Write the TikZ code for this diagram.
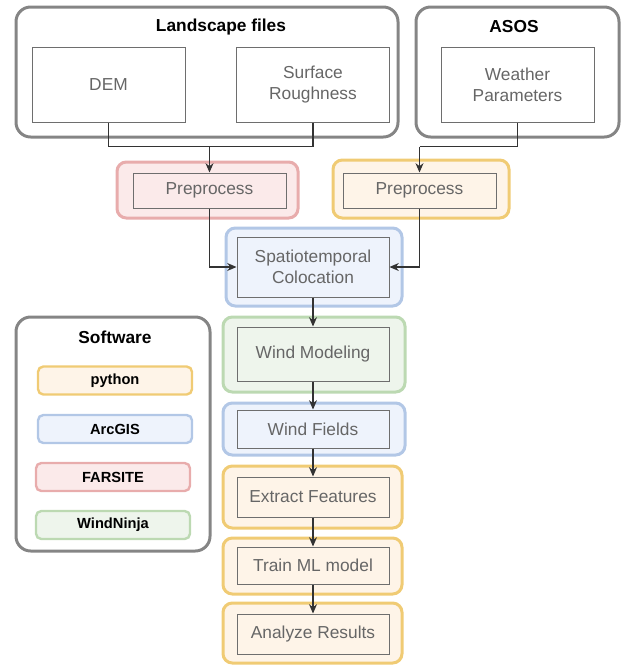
\documentclass[tikz,border=0pt]{standalone}
\usepackage{fontspec}
\setmainfont{Liberation Sans}
\usetikzlibrary{arrows.meta}

\definecolor{framegray}{HTML}{858585}
\definecolor{innergray}{HTML}{6E6E6E}
\definecolor{textgray}{HTML}{666666}
\definecolor{pyfill}{HTML}{FEF4E8}
\definecolor{pydraw}{HTML}{F0CB74}
\definecolor{gisfill}{HTML}{EEF3FC}
\definecolor{gisdraw}{HTML}{B2C7E6}
\definecolor{farfill}{HTML}{FBEAEA}
\definecolor{fardraw}{HTML}{E8ACAC}
\definecolor{ninjafill}{HTML}{EEF5EC}
\definecolor{ninjadraw}{HTML}{BCD9B2}

\tikzset{
  group/.style={draw=framegray,line width=2.25pt,rounded corners=11pt,inner sep=0pt},
  tool/.style={line width=2.25pt,rounded corners=7pt,inner sep=0pt},
  task/.style={draw=innergray,line width=0.75pt,inner sep=0pt,align=center,
    text=textgray,font=\fontsize{13}{15.75}\selectfont},
  key/.style={line width=1.8pt,rounded corners=4pt,inner sep=0pt,
    minimum width=115.5pt,minimum height=21pt,font=\fontsize{11}{13}\selectfont\bfseries},
  title/.style={font=\fontsize{13}{15}\selectfont\bfseries},
  arr/.style={draw=black!80,line width=0.8pt,-{Stealth[length=7pt,width=6pt]}},
  wire/.style={draw=black!80,line width=0.8pt}
}

\begin{document}
\begin{tikzpicture}[x=0.75pt,y=-0.75pt]
    \useasboundingbox (0,0) rectangle (624,665);
    % input groups
    \node[group,minimum width=286.5pt,minimum height=97.5pt] (land) at (207,72) {};
    \node[group,minimum width=152.25pt,minimum height=97.5pt] (asos) at (517.5,72) {};
    \node[title] (landtitle) at (221,27) {Landscape files};
    \node[title] (asostitle) at (514,27) {ASOS};
    \begin{scope}[every node/.style={task,minimum width=114.75pt,minimum height=56.25pt}]
      \node (dem) at (108.5,84.5) {DEM};
      \node (rough) at (313,84.5) {Surface\\Roughness};
      \node (weather) at (517.5,84.5) {Weather\\Parameters};
    \end{scope}

    % tool frames
    \node[tool,draw=fardraw,fill=farfill,minimum width=135.75pt,minimum height=42pt] (prepAout) at (207.5,190) {};
    \node[tool,draw=pydraw,fill=pyfill,minimum width=132pt,minimum height=43.5pt] (prepBout) at (421,189) {};
    \node[tool,draw=gisdraw,fill=gisfill,minimum width=132pt,minimum height=58.5pt] (spatioout) at (314,267) {};
    \node[tool,draw=ninjadraw,fill=ninjafill,minimum width=136.5pt,minimum height=56.25pt] (windout) at (314,354.5) {};
    \node[tool,draw=gisdraw,fill=gisfill,minimum width=136.5pt,minimum height=39pt] (fieldsout) at (314,429) {};
    \node[tool,draw=pydraw,fill=pyfill,minimum width=134.25pt,minimum height=46.5pt] (extractout) at (312.5,497) {};
    \node[tool,draw=pydraw,fill=pyfill,minimum width=134.25pt,minimum height=42pt] (trainout) at (312.5,566) {};
    \node[tool,draw=pydraw,fill=pyfill,minimum width=134.25pt,minimum height=45pt] (analyzeout) at (312.5,633) {};

    % steps
    \begin{scope}[every node/.style={task,minimum width=114.75pt}]
      \node[minimum height=26.25pt] (prepAin) at (209.5,190.5) {Preprocess};
      \node[minimum height=26.25pt] (prepBin) at (419.5,190.5) {Preprocess};
      \node[minimum width=114pt,minimum height=45pt] (spatioin) at (313,267) {Spatiotemporal\\Colocation};
      \node[minimum width=114pt,minimum height=40.5pt] (windin) at (313,354) {Wind Modeling};
      \node[minimum width=114pt,minimum height=28.5pt] (fieldsin) at (313,429) {Wind Fields};
      \node[minimum width=114pt,minimum height=30pt] (extractin) at (313,497) {Extract Features};
      \node[minimum width=114pt,minimum height=27.75pt] (trainin) at (313,565.5) {Train ML model};
      \node[minimum width=114pt,minimum height=30pt] (analyzein) at (313,634) {Analyze Results};
    \end{scope}

    % connectors
    \path (prepAin.north) ++(0,-26) coordinate (landJ);
    \path (prepBin.north) ++(0,-26) coordinate (asosJ);
    \draw[wire] (dem.south) |- (landJ);
    \draw[wire] (rough.south) |- (landJ);
    \draw[arr] (landJ) -- (prepAin);
    \draw[wire] (weather.south) |- (asosJ);
    \draw[arr] (asosJ) -- (prepBin);
    \draw[arr] (prepAin.south) |- (spatioin.west);
    \draw[arr] (prepBin.south) |- (spatioin.east);
    \draw[arr] (spatioin) -- (windin);
    \draw[arr] (windin) -- (fieldsin);
    \draw[arr] (fieldsin) -- (extractin);
    \draw[arr] (extractin) -- (trainin);
    \draw[arr] (trainin) -- (analyzein);

    % legend
    \node[group,minimum width=145.5pt,minimum height=175.5pt] (soft) at (113,434) {};
    \node[title] (softtitle) at (115,337) {Software};
    \node[key,draw=pydraw,fill=pyfill] (python) at (115,380.5) {python};
    \node[key,draw=gisdraw,fill=gisfill] (arcgis) at (115,429) {ArcGIS};
    \node[key,draw=fardraw,fill=farfill] (farsite) at (113,477) {FARSITE};
    \node[key,draw=ninjadraw,fill=ninjafill] (windninja) at (113,525) {WindNinja};
\end{tikzpicture}
\end{document}
